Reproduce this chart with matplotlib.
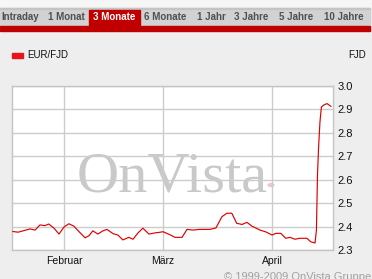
import matplotlib.pyplot as plt
from matplotlib.patches import Rectangle, Circle
import numpy as np

# EUR/FJD, 3 Monate (day of year 2009, 0 = 1. Januar)
day = [16.5, 18.0, 19.7, 21.4, 22.8, 24.2, 25.6, 26.7, 28.2, 29.6,
       31.0, 32.4, 33.8, 35.3, 37.0, 38.1, 39.2, 40.6, 42.1, 43.2,
       44.9, 46.3, 47.7, 49.4, 50.6, 52.0, 53.4, 55.1, 56.8, 57.9,
       59.1, 61.1, 62.5, 64.5, 65.9, 67.6, 69.3, 72.4, 74.1, 75.8,
       77.2, 78.6, 80.0, 81.5, 82.9, 84.3, 86.6, 88.3, 90.0, 91.1,
       92.5, 93.9, 95.1, 96.5, 97.9, 99.9, 101.0, 102.2, 102.6, 102.9,
       103.2, 103.6, 104.0, 104.7, 105.6, 106.7]
kurs = [2.379, 2.376, 2.383, 2.390, 2.385, 2.407, 2.404, 2.411, 2.393, 2.368,
        2.398, 2.412, 2.402, 2.378, 2.352, 2.361, 2.382, 2.368, 2.382, 2.388,
        2.370, 2.364, 2.343, 2.354, 2.346, 2.373, 2.393, 2.368, 2.373, 2.375,
        2.378, 2.365, 2.354, 2.354, 2.388, 2.385, 2.388, 2.388, 2.394, 2.442,
        2.457, 2.457, 2.414, 2.409, 2.418, 2.402, 2.385, 2.377, 2.364, 2.371,
        2.371, 2.350, 2.354, 2.346, 2.350, 2.350, 2.335, 2.330, 2.385, 2.620,
        2.735, 2.846, 2.910, 2.919, 2.925, 2.913]

monat_pos = [31, 59, 90]
monat_namen = ['Februar', 'März', 'April']
y_ticks = [2.3, 2.4, 2.5, 2.6, 2.7, 2.8, 2.9, 3.0]

tabs = ['Intraday', '1 Monat', '3 Monate', '6 Monate', '1 Jahr', '3 Jahre', '5 Jahre', '10 Jahre']
aktiv = '3 Monate'

W, H = 372, 279
fig = plt.figure(figsize=(W / 100, H / 100), dpi=100, facecolor='#eeeeee')

def px(x, y):
    # pixel (from top-left) -> figure fraction
    return x / W, 1 - y / H

# tab strip
fig.patches.append(Rectangle(px(0, 8), 1, 8 / H, transform=fig.transFigure,
                             color='#f6f6f6', zorder=0))
fig.patches.append(Rectangle(px(0, 26), 370 / W, 18 / H, transform=fig.transFigure,
                             color='#d2d2d2', zorder=0))
fig.patches.append(Rectangle(px(0, 9), 370 / W, 1 / H, transform=fig.transFigure,
                             color='#c4c4c4', zorder=0))
fig.patches.append(Rectangle(px(0, 31), 370 / W, 5 / H, transform=fig.transFigure,
                             color='#c00000', zorder=0))
fig.patches.append(Rectangle(px(89, 26), 51 / W, 16 / H, transform=fig.transFigure,
                             color='#c00000', zorder=1))
tab_x = [20, 66.5, 114, 165.5, 211, 251, 296, 344]
for name, tx in zip(tabs, tab_x):
    fig.text(*px(tx, 17.5), name, ha='center', va='center', fontsize=7,
             family='Liberation Sans', weight='bold',
             color='white' if name == aktiv else '#505050', zorder=2)

# legend
fig.patches.append(Rectangle(px(12, 58), 11 / W, 5 / H, transform=fig.transFigure,
                             color='#e8141c'))
fig.text(*px(27, 55.5), 'EUR/FJD', ha='left', va='center', fontsize=7,
         family='Liberation Sans', color='#111111')
fig.text(*px(366, 55.5), 'FJD', ha='right', va='center', fontsize=7,
         family='Liberation Sans', color='#111111')

ax = fig.add_axes([12 / W, 1 - 250 / H, 321 / W, 164 / H])
ax.set_facecolor('white')

# watermark
ax.text(0.5, 0.355, 'OnVista', transform=ax.transAxes, ha='center', va='baseline',
        fontsize=42, family='Liberation Serif', color='#c9c9c9', zorder=0)
ax.add_patch(Circle((259 / 321, 1 - (185 - 86) / 164), 0.009, transform=ax.transAxes,
                    color='#f2c4cc', zorder=0))

ax.plot(day, kurs, color='#e00000', lw=0.85, zorder=3)

ax.set_xlim(16.27, 107.3)
ax.set_ylim(2.3, 3.0)
ax.set_xticks(monat_pos)
ax.set_xticklabels(monat_namen)
ax.set_yticks(y_ticks)
ax.set_yticklabels([f'{v:.1f}' for v in y_ticks])
ax.yaxis.tick_right()
ax.tick_params(length=0, labelsize=8, colors='#111111', pad=3)
for lab in ax.get_xticklabels() + ax.get_yticklabels():
    lab.set_family('Liberation Sans')
ax.tick_params(axis='x', labelsize=7.5, pad=4)
ax.grid(True, color='#cccccc', lw=1.0)
ax.set_axisbelow(True)
for s in ax.spines.values():
    s.set_color('#c4c4c4')
    s.set_linewidth(1.0)

fig.text(*px(224, 272), '© 1999-2009 OnVista Gruppe', ha='left', va='top',
         fontsize=8, family='Liberation Sans', color='#a0a0a0')

fig.savefig('out.png', dpi=100, facecolor=fig.get_facecolor())
